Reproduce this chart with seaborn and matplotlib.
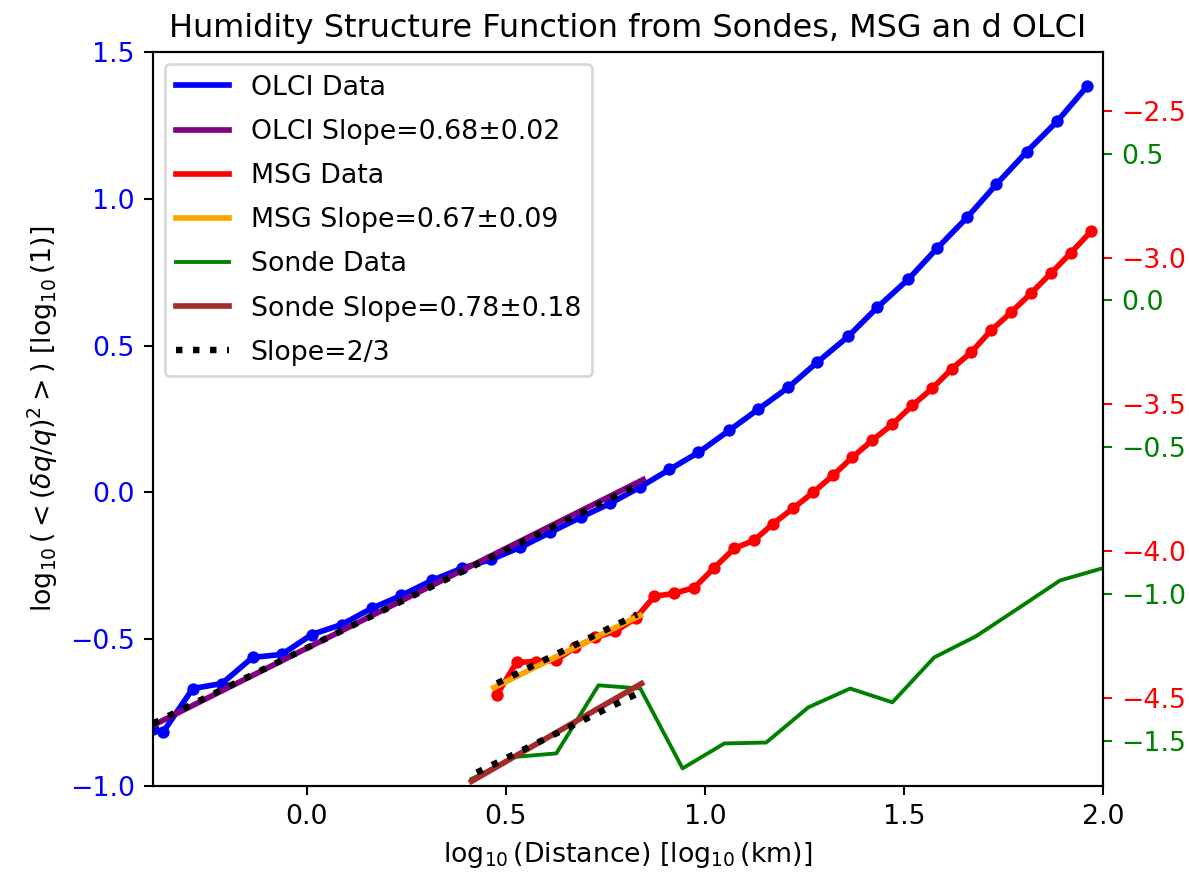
import numpy as np
import pandas as pd
import matplotlib
matplotlib.use("Agg")
import matplotlib.pyplot as plt
from matplotlib.lines import Line2D
import seaborn as sns

# ---------------- data ----------------
olci_x = [-0.386, -0.361, -0.286, -0.213, -0.136, -0.063, 0.013, 0.088, 0.163, 0.238,
          0.314, 0.389, 0.464, 0.537, 0.612, 0.688, 0.763, 0.836, 0.911, 0.984,
          1.061, 1.134, 1.210, 1.282, 1.360, 1.433, 1.511, 1.583, 1.659, 1.732,
          1.809, 1.885, 1.960]
olci_y = [-0.805, -0.817, -0.668, -0.651, -0.562, -0.552, -0.484, -0.450, -0.395, -0.351,
          -0.300, -0.259, -0.228, -0.187, -0.136, -0.085, -0.037, 0.017, 0.078, 0.136,
          0.211, 0.283, 0.358, 0.443, 0.531, 0.630, 0.726, 0.831, 0.937, 1.049,
          1.161, 1.264, 1.383]

msg_x = [0.477, 0.527, 0.577, 0.625, 0.675, 0.725, 0.775, 0.826, 0.873, 0.923,
         0.974, 1.024, 1.074, 1.124, 1.172, 1.222, 1.272, 1.322, 1.370, 1.420,
         1.471, 1.521, 1.571, 1.621, 1.669, 1.719, 1.769, 1.819, 1.869, 1.920, 1.970]
msg_y = [-4.491, -4.379, -4.376, -4.372, -4.328, -4.294, -4.273, -4.229, -4.154, -4.144,
         -4.124, -4.056, -3.991, -3.963, -3.906, -3.854, -3.800, -3.742, -3.681, -3.623,
         -3.568, -3.504, -3.446, -3.378, -3.323, -3.248, -3.187, -3.122, -3.054, -2.983, -2.911]

sonde_x = [0.414, 0.522, 0.627, 0.733, 0.838, 0.944, 1.049, 1.154, 1.260, 1.365,
           1.471, 1.576, 1.681, 1.787, 1.892, 1.997]
sonde_y = [-1.630, -1.555, -1.543, -1.311, -1.322, -1.594, -1.509, -1.506, -1.386, -1.322,
           -1.369, -1.216, -1.144, -1.049, -0.954, -0.913]

# fits: slope, intercept, x-range
olci_fit = (0.68, -0.531, [-0.386, 0.845])
olci_ref = (2 / 3, -0.530, [-0.386, 0.82])
msg_fit = (0.67, -4.780, [0.470, 0.837])
msg_ref = (2 / 3, -4.769, [0.478, 0.83])
sonde_fit = (0.78, -1.961, [0.414, 0.841])
sonde_ref = (2 / 3, -1.893, [0.427, 0.83])

labels = ["OLCI Data", "OLCI Slope=0.68±0.02", "MSG Data", "MSG Slope=0.67±0.09",
          "Sonde Data", "Sonde Slope=0.78±0.18", "Slope=2/3"]

title = "Humidity Structure Function from Sondes, MSG an d OLCI"
xlabel = r"$\log_{10}$(Distance) [$\log_{10}$(km)]"
ylabel = r"$\log_{10}( < (\delta q/q)^2 > )$ [$\log_{10}(1)$]"

FS = 10.4
plt.rcParams["font.size"] = FS


def line_df(fit):
    s, b, xr = fit
    xs = np.array(xr)
    return pd.DataFrame({"x": xs, "y": s * xs + b})


fig = plt.figure(figsize=(1189 / 185, 872 / 185), dpi=185)
ax = fig.add_axes([153 / 1189, 1 - 786 / 872, (1103 - 153) / 1189, (786 - 52) / 872])
ax2 = ax.twinx()
ax3 = ax.twinx()

# OLCI (left axis)
sns.lineplot(x=olci_x, y=olci_y, ax=ax, color="blue", lw=2.2, marker="o",
             markersize=4.8, markeredgewidth=0, sort=False, legend=False)
d = line_df(olci_fit)
sns.lineplot(data=d, x="x", y="y", ax=ax, color="purple", lw=2.2, legend=False)
d = line_df(olci_ref)
sns.lineplot(data=d, x="x", y="y", ax=ax, color="black", lw=2.5, ls=":", legend=False)

# MSG (red axis)
sns.lineplot(x=msg_x, y=msg_y, ax=ax2, color="red", lw=2.2, marker="o",
             markersize=4.8, markeredgewidth=0, sort=False, legend=False)
d = line_df(msg_fit)
sns.lineplot(data=d, x="x", y="y", ax=ax2, color="orange", lw=2.2, legend=False)
d = line_df(msg_ref)
sns.lineplot(data=d, x="x", y="y", ax=ax2, color="black", lw=2.5, ls=":", legend=False)

# Sonde (green axis)
sns.lineplot(x=sonde_x, y=sonde_y, ax=ax3, color="green", lw=1.5, sort=False, legend=False)
d = line_df(sonde_fit)
sns.lineplot(data=d, x="x", y="y", ax=ax3, color="brown", lw=2.2, legend=False)
d = line_df(sonde_ref)
sns.lineplot(data=d, x="x", y="y", ax=ax3, color="black", lw=2.5, ls=":", legend=False)

ax.set_xlim(-0.386, 2.0)
ax.set_xticks([0.0, 0.5, 1.0, 1.5, 2.0])
ax.set_ylim(-1.0, 1.5)
ax.set_yticks([-1.0, -0.5, 0.0, 0.5, 1.0, 1.5])
ax.tick_params(axis="both", labelsize=FS)
ax.tick_params(axis="y", labelcolor="blue")
ax2.set_ylim(-4.8, -2.3)
ax2.set_yticks([-4.5, -4.0, -3.5, -3.0, -2.5])
ax2.tick_params(axis="y", colors="red", labelsize=FS)
ax3.set_ylim(-1.654, 0.846)
ax3.set_yticks([-1.5, -1.0, -0.5, 0.0, 0.5])
ax3.tick_params(axis="y", colors="green", labelsize=FS)
for a in (ax2, ax3):
    a.set_ylabel("")
    a.spines["right"].set_color("black")

ax.set_xlabel(xlabel, fontsize=FS)
ax.set_ylabel(ylabel, fontsize=FS)
ax.set_title(title, fontsize=12.4)

handles = [
    Line2D([], [], color="blue", lw=2.2),
    Line2D([], [], color="purple", lw=2.2),
    Line2D([], [], color="red", lw=2.2),
    Line2D([], [], color="orange", lw=2.2),
    Line2D([], [], color="green", lw=1.5),
    Line2D([], [], color="brown", lw=2.2),
    Line2D([], [], color="black", lw=2.5, ls=":"),
]
ax3.legend(handles, labels, loc="upper left", fontsize=FS, labelspacing=0.68,
           borderaxespad=0.45)

fig.savefig("out.png", dpi=185)
